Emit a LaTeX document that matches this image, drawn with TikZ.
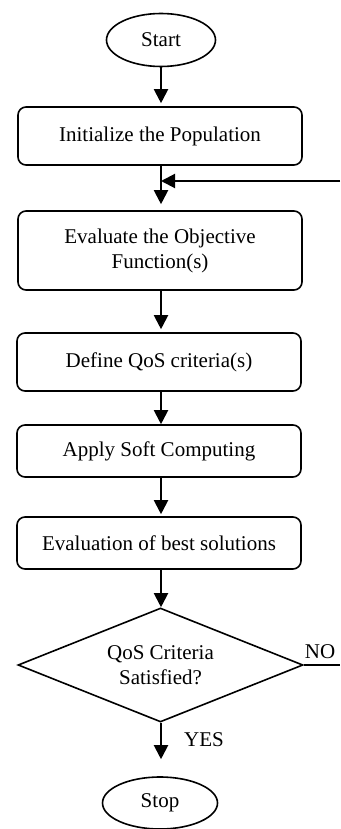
\documentclass[tikz,border=0pt]{standalone}
\usepackage{fontspec}
\setmainfont{Liberation Serif}
\usetikzlibrary{shapes.geometric,arrows.meta}

\tikzset{
  every node/.style={font=\fontsize{21}{25}\selectfont},
  procbox/.style={draw, line width=1.6pt, rounded corners=8pt, minimum width=284pt,
    inner sep=0pt, align=center},
  terminal/.style={draw, line width=1.6pt, ellipse, inner sep=0pt},
  decision/.style={draw, line width=1.6pt, diamond, aspect=2.5, minimum width=285pt,
    minimum height=114pt, inner sep=0pt, align=center},
  flow/.style={line width=2pt, -{Triangle[length=14pt,width=14pt]}},
  plain/.style={line width=2pt}
}

\begin{document}
\begin{tikzpicture}[x=1pt,y=-1pt]
  \useasboundingbox (0,0) rectangle (340,829);

  % terminals
  \node[terminal, minimum width=109pt, minimum height=53pt] (start) at (161,40) {Start};
  \node[terminal, minimum width=115pt, minimum height=52pt] (stop) at (160,803) {Stop};

  % process steps
  \node[procbox, minimum height=58pt] (init) at (160,136) {Initialize the Population};
  \node[procbox, minimum height=79pt] (eval) at (160,250.5) {Evaluate the Objective\\Function(s)};
  \node[procbox, minimum height=58pt] (define) at (159,362) {Define QoS criteria(s)};
  \node[procbox, minimum height=52pt] (apply) at (159,451) {Apply Soft Computing};
  \node[procbox, minimum height=52pt] (best) at (159,543) {Evaluation of best solutions};

  % decision
  \node[decision] (check) at (160.5,665) {QoS Criteria\\Satisfied?};

  % loop-back ends at the picture edge
  \coordinate (noend) at (340,665);
  \coordinate (backin) at (340,181);
  \coordinate (join) at (161,181);

  % main flow
  \draw[flow, shorten >=3pt] (start.south) -- (init.north -| start.south);
  \draw[flow, shorten >=6pt] (init.south -| join) -- (eval.north -| join);
  \draw[flow, shorten >=3pt] (eval.south -| join) -- (define.north -| join);
  \draw[flow] (define.south -| join) -- (apply.north -| join);
  \draw[flow, shorten >=2pt] (apply.south -| join) -- (best.north -| join);
  \draw[flow] (best.south -| join) -- (check.north -| join);
  \draw[flow, shorten >=17pt] (check.south -| join) -- (stop.north -| join);

  % NO branch and return into the loop
  \draw[plain] (check.east) -- (noend);
  \draw[flow] (backin) -- (join);

  % branch labels
  \node (no) at (320,652) {NO};
  \node (yes) at (204,740) {YES};
\end{tikzpicture}
\end{document}
